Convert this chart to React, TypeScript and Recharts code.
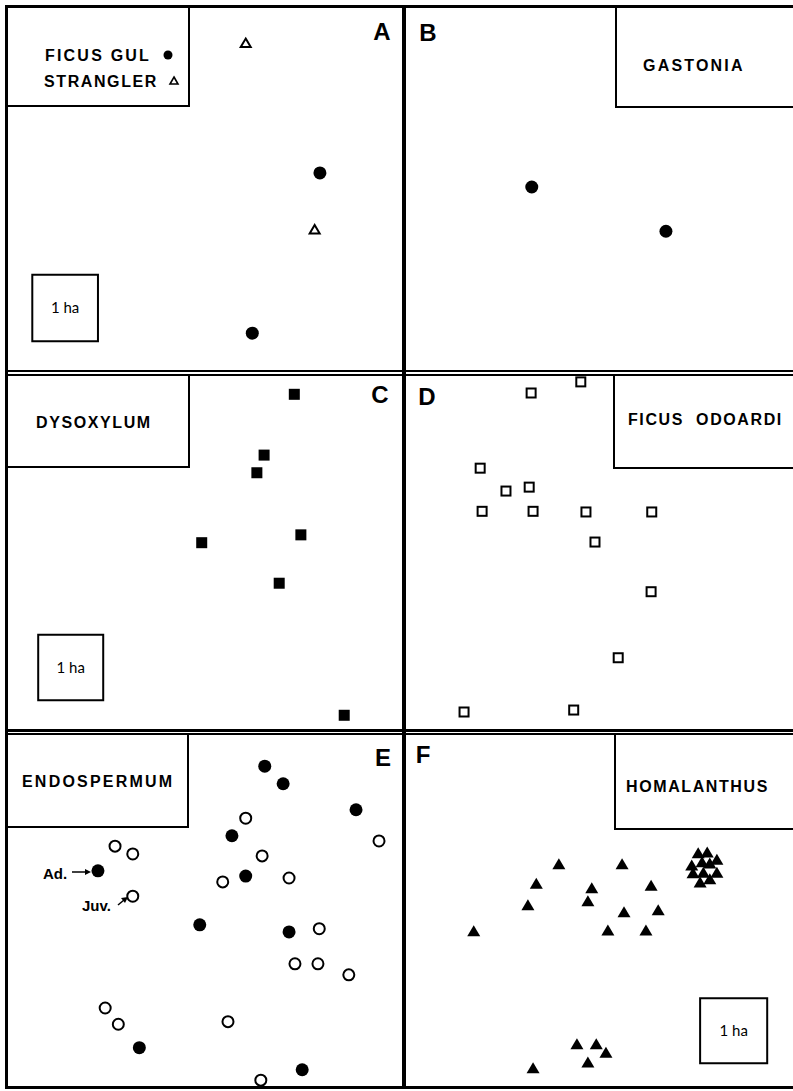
import { ScatterChart, Scatter, XAxis, YAxis, ReferenceArea } from 'recharts';

// plot extent in metres (same for every panel)
const PLOT_W = 600;
const PLOT_H = 540;

// A: Ficus gul + stranglers
const ficusGul = [
  { x: 475, y: 294 },
  { x: 372, y: 55 },
];
const strangler = [
  { x: 362, y: 488 },
  { x: 467, y: 210 },
];

// B: Gastonia
const gastonia = [
  { x: 195, y: 273 },
  { x: 403, y: 207 },
];

// C: Dysoxylum
const dysoxylum = [
  { x: 436, y: 512 },
  { x: 390, y: 419 },
  { x: 379, y: 392 },
  { x: 295, y: 285 },
  { x: 446, y: 297 },
  { x: 413, y: 223 },
  { x: 512, y: 21 },
];

// D: Ficus odoardi
const ficusOdoardi = [
  { x: 271, y: 531 },
  { x: 194, y: 514 },
  { x: 115, y: 399 },
  { x: 155, y: 364 },
  { x: 191, y: 370 },
  { x: 118, y: 333 },
  { x: 197, y: 333 },
  { x: 279, y: 332 },
  { x: 381, y: 332 },
  { x: 293, y: 286 },
  { x: 380, y: 210 },
  { x: 329, y: 109 },
  { x: 90, y: 26 },
  { x: 260, y: 29 },
];

// E: Endospermum adults / juveniles
const endospermumAdult = [
  { x: 391, y: 492 },
  { x: 419, y: 465 },
  { x: 530, y: 425 },
  { x: 341, y: 385 },
  { x: 362, y: 323 },
  { x: 137, y: 331 },
  { x: 292, y: 248 },
  { x: 428, y: 237 },
  { x: 200, y: 59 },
  { x: 448, y: 25 },
];
const endospermumJuv = [
  { x: 362, y: 412 },
  { x: 565, y: 377 },
  { x: 163, y: 369 },
  { x: 190, y: 357 },
  { x: 387, y: 354 },
  { x: 327, y: 314 },
  { x: 428, y: 320 },
  { x: 190, y: 292 },
  { x: 474, y: 242 },
  { x: 437, y: 188 },
  { x: 472, y: 188 },
  { x: 519, y: 171 },
  { x: 148, y: 120 },
  { x: 168, y: 95 },
  { x: 335, y: 99 },
  { x: 385, y: 9 },
];

// F: Homalanthus
const homalanthus = [
  { x: 237, y: 342 },
  { x: 335, y: 342 },
  { x: 202, y: 312 },
  { x: 288, y: 305 },
  { x: 380, y: 309 },
  { x: 189, y: 279 },
  { x: 282, y: 285 },
  { x: 338, y: 268 },
  { x: 391, y: 271 },
  { x: 105, y: 239 },
  { x: 313, y: 240 },
  { x: 372, y: 240 },
  { x: 265, y: 65 },
  { x: 295, y: 65 },
  { x: 310, y: 52 },
  { x: 282, y: 37 },
  { x: 197, y: 28 },
  { x: 453, y: 359 },
  { x: 467, y: 360 },
  { x: 482, y: 349 },
  { x: 443, y: 340 },
  { x: 459, y: 345 },
  { x: 471, y: 343 },
  { x: 445, y: 328 },
  { x: 461, y: 329 },
  { x: 482, y: 329 },
  { x: 456, y: 314 },
  { x: 471, y: 319 },
];

// 1 ha scale squares (metres)
const haBoxA = { x1: 37, x2: 137, y1: 43, y2: 142 };
const haBoxC = { x1: 46, x2: 145, y1: 44, y2: 144 };
const haBoxF = { x1: 456, x2: 560, y1: 35, y2: 135 };

const labelFont = '"Liberation Sans", Arial, sans-serif';

const circle = (filled: boolean) => (p: any) => (
  <circle
    cx={p.cx}
    cy={p.cy}
    r={filled ? 6.5 : 5.5}
    fill={filled ? '#000' : '#fff'}
    stroke="#000"
    strokeWidth={filled ? 0 : 2}
  />
);

const square = (filled: boolean) => (p: any) => {
  const s = filled ? 11 : 9;
  return (
    <rect
      x={p.cx - s / 2}
      y={p.cy - s / 2}
      width={s}
      height={s}
      fill={filled ? '#000' : '#fff'}
      stroke="#000"
      strokeWidth={filled ? 0 : 2}
    />
  );
};

const triangle = (filled: boolean) => (p: any) => {
  const w = filled ? 13 : 10;
  const h = filled ? 11 : 8.5;
  const pts = `${p.cx},${p.cy - h / 2} ${p.cx + w / 2},${p.cy + h / 2} ${p.cx - w / 2},${p.cy + h / 2}`;
  return <polygon points={pts} fill={filled ? '#000' : '#fff'} stroke="#000" strokeWidth={filled ? 0 : 2} />;
};

const haLabel = { value: '1 ha', position: 'center' as const, fontSize: 15, fontFamily: 'Lato, sans-serif', fill: '#000' };

function Panel({ left, top, width, height, children }: any) {
  return (
    <div style={{ position: 'absolute', left, top, width, height }}>
      <ScatterChart width={width} height={height} margin={{ top: 0, right: 0, bottom: 0, left: 0 }}>
        <XAxis type="number" dataKey="x" domain={[0, PLOT_W]} hide />
        <YAxis type="number" dataKey="y" domain={[0, PLOT_H]} hide />
        {children}
      </ScatterChart>
    </div>
  );
}

const Line = ({ x, y, w, h }: any) => (
  <div style={{ position: 'absolute', left: x, top: y, width: w, height: h, background: '#000' }} />
);

const Box = ({ x, y, w, h, sides }: any) => (
  <div
    style={{
      position: 'absolute',
      left: x,
      top: y,
      width: w,
      height: h,
      boxSizing: 'border-box',
      borderLeft: sides.includes('l') ? '2px solid #000' : 'none',
      borderRight: sides.includes('r') ? '2px solid #000' : 'none',
      borderBottom: sides.includes('b') ? '2px solid #000' : 'none',
    }}
  />
);

const Name = ({ x, y, text, size = 16, spacing = 2.2 }: any) => (
  <div
    style={{
      position: 'absolute',
      left: x,
      top: y,
      transform: 'translateY(-50%)',
      fontFamily: labelFont,
      fontWeight: 700,
      fontSize: size,
      letterSpacing: spacing,
      lineHeight: 1,
      whiteSpace: 'pre',
      color: '#000',
    }}
  >
    {text}
  </div>
);

const Letter = ({ x, y, text }: any) => (
  <div
    style={{
      position: 'absolute',
      left: x,
      top: y,
      transform: 'translate(-50%, -50%)',
      fontFamily: labelFont,
      fontWeight: 700,
      fontSize: 24,
      lineHeight: 1,
      color: '#000',
    }}
  >
    {text}
  </div>
);

export default function App() {
  return (
    <div style={{ position: 'absolute', left: 0, top: 0, width: 793, height: 1091, overflow: 'hidden', background: '#fff' }}>
      <Panel left={8} top={8} width={394} height={362}>
        <ReferenceArea {...haBoxA} fill="none" stroke="#000" strokeWidth={2} label={haLabel} />
        <Scatter data={ficusGul} shape={circle(true)} isAnimationActive={false} />
        <Scatter data={strangler} shape={triangle(false)} isAnimationActive={false} />
      </Panel>
      <Panel left={406} top={8} width={387} height={362}>
        <Scatter data={gastonia} shape={circle(true)} isAnimationActive={false} />
      </Panel>
      <Panel left={8} top={376} width={394} height={353}>
        <ReferenceArea {...haBoxC} fill="none" stroke="#000" strokeWidth={2} label={haLabel} />
        <Scatter data={dysoxylum} shape={square(true)} isAnimationActive={false} />
      </Panel>
      <Panel left={406} top={376} width={387} height={353}>
        <Scatter data={ficusOdoardi} shape={square(false)} isAnimationActive={false} />
      </Panel>
      <Panel left={8} top={735} width={394} height={351}>
        <Scatter data={endospermumAdult} shape={circle(true)} isAnimationActive={false} />
        <Scatter data={endospermumJuv} shape={circle(false)} isAnimationActive={false} />
      </Panel>
      <Panel left={406} top={735} width={387} height={351}>
        <ReferenceArea {...haBoxF} fill="none" stroke="#000" strokeWidth={2} label={haLabel} />
        <Scatter data={homalanthus} shape={triangle(true)} isAnimationActive={false} />
      </Panel>

      {/* frame and dividers */}
      <Line x={5} y={5} w={3} h={1084} />
      <Line x={5} y={5} w={788} h={3} />
      <Line x={5} y={1086} w={788} h={3} />
      <Line x={402} y={5} w={4} h={1084} />
      <Line x={5} y={370} w={788} h={2} />
      <Line x={5} y={374} w={788} h={2} />
      <Line x={5} y={729} w={788} h={3} />
      <Line x={5} y={733} w={788} h={2} />

      {/* species boxes */}
      <Box x={8} y={8} w={182} h={99} sides="rb" />
      <Box x={615} y={8} w={178} h={100} sides="lb" />
      <Box x={8} y={376} w={182} h={92} sides="rb" />
      <Box x={613} y={376} w={180} h={93} sides="lb" />
      <Box x={8} y={735} w={181} h={93} sides="rb" />
      <Box x={614} y={735} w={179} h={95} sides="lb" />

      <Name x={45} y={56} text="FICUS GUL" />
      <Name x={44} y={82} text="STRANGLER" spacing={1.6} />
      <Name x={643} y={66} text="GASTONIA" />
      <Name x={36} y={423} text="DYSOXYLUM" spacing={1.6} />
      <Name x={628} y={420} text="FICUS  ODOARDI" spacing={1.6} />
      <Name x={22} y={782} text="ENDOSPERMUM" />
      <Name x={626} y={787} text="HOMALANTHUS" spacing={1.6} />
      <Name x={43} y={873} text="Ad." size={15} spacing={0} />
      <Name x={82} y={905} text="Juv." size={15} spacing={0} />

      <Letter x={382} y={32} text="A" />
      <Letter x={428} y={33} text="B" />
      <Letter x={380} y={395} text="C" />
      <Letter x={427} y={397} text="D" />
      <Letter x={383} y={758} text="E" />
      <Letter x={423} y={755} text="F" />

      {/* legend glyphs and arrows */}
      <svg width={793} height={1091} style={{ position: 'absolute', left: 0, top: 0, pointerEvents: 'none' }}>
        <circle cx={168} cy={55} r={4.5} fill="#000" />
        <polygon points="174,77 178,84 170,84" fill="#fff" stroke="#000" strokeWidth={1.6} />
        <line x1={72} y1={872} x2={86} y2={872} stroke="#000" strokeWidth={1.5} />
        <polygon points="91,872 85,869 85,875" fill="#000" />
        <line x1={118} y1={905} x2={124} y2={900} stroke="#000" strokeWidth={1.5} />
        <polygon points="128,897 121,898 125,903" fill="#000" />
      </svg>
    </div>
  );
}
